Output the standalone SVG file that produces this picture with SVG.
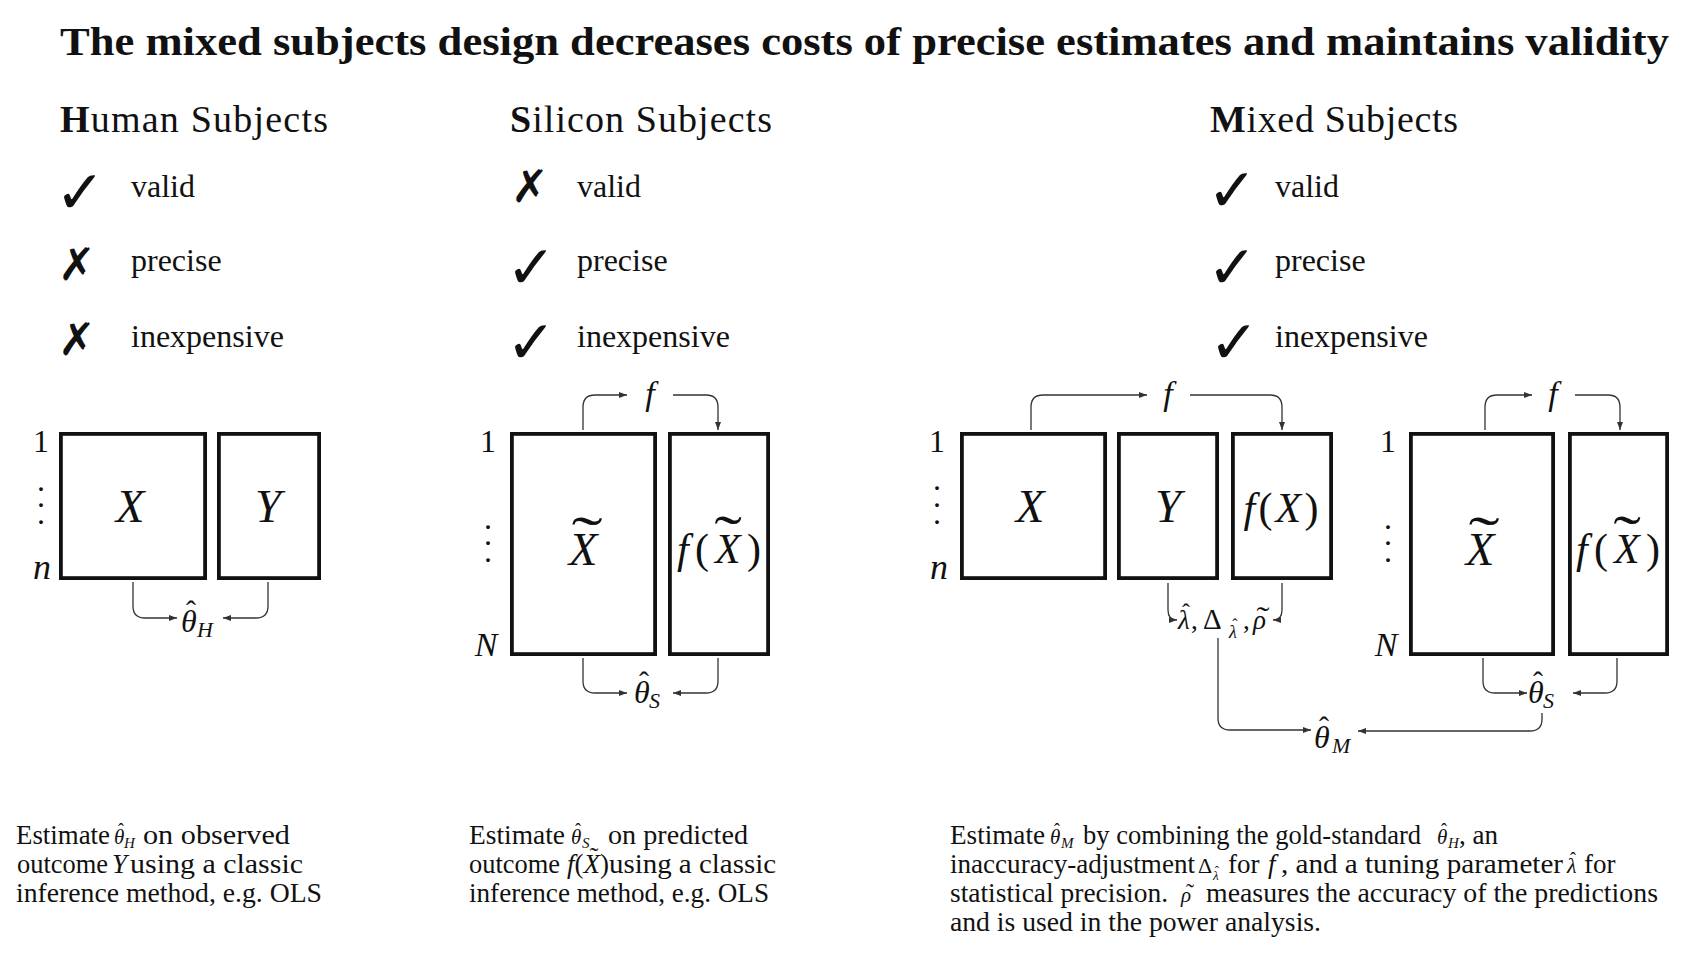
<svg xmlns="http://www.w3.org/2000/svg" width="1688" height="955" viewBox="0 0 1688 955">
<style>
text{font-family:"Liberation Serif","Times New Roman",serif;fill:#111}
.title{font-size:41px;font-weight:bold}
.head{font-size:38px}
.item{font-size:32px}
.ck{font-family:"DejaVu Sans",sans-serif;font-size:60px}
.cx{font-family:"DejaVu Sans",sans-serif;font-size:45px}
.mi{font-style:italic}
.big{font-size:47px;font-style:italic;text-anchor:middle}
.fx{font-size:42px;text-anchor:middle}
.idx{font-size:32px;text-anchor:middle}
.f{font-size:34px;font-style:italic;text-anchor:middle}
.th{font-size:32px;font-style:italic}
.sub{font-size:22px;font-style:italic}
.hat{font-size:30px;text-anchor:middle}
.til{font-size:52px;text-anchor:middle}
.lab{font-size:27px}
.body{font-size:27px}
.bm{font-size:21px;font-style:italic}
.bs{font-size:15px;font-style:italic}
.bh{font-size:18px;text-anchor:middle}
.box{fill:#fff;stroke:#111;stroke-width:3.8}
.conn path{fill:none;stroke:#333;stroke-width:1.3}
</style>
<defs>
<marker id="ah" viewBox="0 0 8 6" refX="8" refY="3" markerWidth="8" markerHeight="6" markerUnits="userSpaceOnUse" orient="auto"><path d="M0,0 L8,3 L0,6 z" fill="#333"/></marker>
</defs>
<rect width="1688" height="955" fill="#fff"/>

<g id="title"><text class="title" x="60" y="55" textLength="1609" lengthAdjust="spacingAndGlyphs">The mixed subjects design decreases costs of precise estimates and maintains validity</text></g>

<g id="human-head">
<text class="head" x="60" y="132" textLength="268"><tspan font-weight="bold">H</tspan>uman Subjects</text>
<text class="ck" x="55" y="213">✓</text><text class="item" x="131" y="197">valid</text>
<text class="cx" x="58" y="280">✗</text><text class="item" x="131" y="271">precise</text>
<text class="cx" x="58" y="355">✗</text><text class="item" x="131" y="347">inexpensive</text>
</g>
<g id="silicon-head">
<text class="head" x="510" y="132" textLength="262"><tspan font-weight="bold">S</tspan>ilicon Subjects</text>
<text class="cx" x="511" y="202">✗</text><text class="item" x="577" y="197">valid</text>
<text class="ck" x="506" y="288">✓</text><text class="item" x="577" y="271">precise</text>
<text class="ck" x="506" y="363">✓</text><text class="item" x="577" y="347">inexpensive</text>
</g>
<g id="mixed-head">
<text class="head" x="1210" y="132" textLength="248"><tspan font-weight="bold">M</tspan>ixed Subjects</text>
<text class="ck" x="1207" y="211">✓</text><text class="item" x="1275" y="197">valid</text>
<text class="ck" x="1207" y="288">✓</text><text class="item" x="1275" y="271">precise</text>
<text class="ck" x="1209" y="363">✓</text><text class="item" x="1275" y="347">inexpensive</text>
</g>

<g id="human-X"><rect class="box" x="60.9" y="433.9" width="144.2" height="144.2"/><text class="big" x="130" y="522">X</text></g>
<g id="human-Y"><rect class="box" x="218.9" y="433.9" width="100.2" height="144.2"/><text class="big" x="268" y="522">Y</text></g>
<g id="human-index"><text class="idx" x="41" y="452">1</text><text class="idx" x="41" y="491">.</text><text class="idx" x="41" y="507">.</text><text class="idx" x="41" y="524">.</text><text class="idx mi" x="42" y="579" style="font-size:36px">n</text></g>
<g id="human-theta"><text class="th" x="181" y="632">θ</text><text class="hat" x="191" y="621">ˆ</text><text class="sub" x="197" y="637">H</text></g>

<g id="silicon-Xt"><rect class="box" x="511.9" y="433.9" width="143.2" height="220.2"/><text class="big" x="583" y="565">X</text><text class="til" x="0" y="0" transform="translate(587,556) scale(1.8,1.1)">˜</text></g>
<g id="silicon-fXt"><rect class="box" x="669.9" y="433.9" width="98.2" height="220.2"/><text class="fx" x="719" y="563" textLength="84"><tspan class="mi">f</tspan>(<tspan class="mi">X</tspan>)</text><text class="til" x="0" y="0" transform="translate(728,555) scale(1.6,1.1)">˜</text></g>
<g id="silicon-index"><text class="idx" x="488" y="452">1</text><text class="idx" x="488" y="529">.</text><text class="idx" x="488" y="545">.</text><text class="idx" x="488" y="562">.</text><text class="idx mi" x="486" y="656" style="font-size:34px">N</text></g>
<g id="silicon-f"><text class="f" x="650" y="405">f</text></g>
<g id="silicon-theta"><text class="th" x="634" y="703">θ</text><text class="hat" x="644" y="692">ˆ</text><text class="sub" x="649" y="708">S</text></g>

<g id="mixed-X"><rect class="box" x="961.9" y="433.9" width="143.2" height="144.2"/><text class="big" x="1030" y="522">X</text></g>
<g id="mixed-Y"><rect class="box" x="1118.9" y="433.9" width="98.2" height="144.2"/><text class="big" x="1168" y="522">Y</text></g>
<g id="mixed-fX"><rect class="box" x="1232.9" y="433.9" width="98.2" height="144.2"/><text class="fx" x="1281" y="522" textLength="75"><tspan class="mi">f</tspan>(<tspan class="mi">X</tspan>)</text></g>
<g id="mixed-index"><text class="idx" x="937" y="452">1</text><text class="idx" x="937" y="490">.</text><text class="idx" x="937" y="507">.</text><text class="idx" x="937" y="524">.</text><text class="idx mi" x="939" y="579" style="font-size:36px">n</text></g>
<g id="mixed-f1"><text class="f" x="1168" y="405">f</text></g>
<g id="mixed-params"><text class="lab mi" x="1178" y="629">λ</text><text class="hat" x="1186" y="620" style="font-size:24px">ˆ</text><text class="lab" x="1191" y="629">,</text><text class="lab" x="1203" y="629" style="font-size:29px">Δ</text><text class="sub" x="1229" y="638" style="font-size:18px">λ</text><text class="hat" x="1235" y="630" style="font-size:16px">ˆ</text><text class="lab" x="1243" y="629">,</text><text class="lab mi" x="1253" y="629">ρ</text><text class="til" x="0" y="0" transform="translate(1263,627) scale(1.3,1)" style="font-size:30px">˜</text></g>

<g id="mixed-Xt"><rect class="box" x="1410.9" y="433.9" width="142.2" height="220.2"/><text class="big" x="1480" y="565">X</text><text class="til" x="0" y="0" transform="translate(1484,556) scale(1.8,1.1)">˜</text></g>
<g id="mixed-fXt"><rect class="box" x="1569.9" y="433.9" width="97.2" height="220.2"/><text class="fx" x="1618" y="563" textLength="84"><tspan class="mi">f</tspan>(<tspan class="mi">X</tspan>)</text><text class="til" x="0" y="0" transform="translate(1627,555) scale(1.6,1.1)">˜</text></g>
<g id="mixed-index2"><text class="idx" x="1388" y="452">1</text><text class="idx" x="1388" y="529">.</text><text class="idx" x="1388" y="545">.</text><text class="idx" x="1388" y="562">.</text><text class="idx mi" x="1386" y="656" style="font-size:34px">N</text></g>
<g id="mixed-f2"><text class="f" x="1553" y="405">f</text></g>
<g id="mixed-thetaS"><text class="th" x="1528" y="703">θ</text><text class="hat" x="1538" y="692">ˆ</text><text class="sub" x="1543" y="708">S</text></g>
<g id="mixed-thetaM"><text class="th" x="1314" y="748">θ</text><text class="hat" x="1324" y="737">ˆ</text><text class="sub" x="1332" y="753">M</text></g>

<g id="connectors" class="conn">
<path d="M133,582 V606 Q133,618 145,618 H177" marker-end="url(#ah)"/>
<path d="M268,582 V606 Q268,618 256,618 H223" marker-end="url(#ah)"/>
<path d="M583,430 V407 Q583,395 595,395 H627" marker-end="url(#ah)"/>
<path d="M673,395 H706 Q718,395 718,407 V430" marker-end="url(#ah)"/>
<path d="M583,658 V681 Q583,693 595,693 H627" marker-end="url(#ah)"/>
<path d="M718,658 V681 Q718,693 706,693 H673" marker-end="url(#ah)"/>
<path d="M1031,430 V407 Q1031,395 1043,395 H1147" marker-end="url(#ah)"/>
<path d="M1190,395 H1270 Q1282,395 1282,407 V430" marker-end="url(#ah)"/>
<path d="M1168,583 V610 Q1168,620 1177,620" marker-end="url(#ah)"/>
<path d="M1282,583 V610 Q1282,620 1273,620" marker-end="url(#ah)"/>
<path d="M1218,638 V718 Q1218,730 1230,730 H1311" marker-end="url(#ah)"/>
<path d="M1542,713 V719 Q1542,731 1530,731 H1358" marker-end="url(#ah)"/>
<path d="M1485,430 V407 Q1485,395 1497,395 H1532" marker-end="url(#ah)"/>
<path d="M1575,395 H1608 Q1620,395 1620,407 V430" marker-end="url(#ah)"/>
<path d="M1483,658 V681 Q1483,693 1495,693 H1527" marker-end="url(#ah)"/>
<path d="M1617,658 V681 Q1617,693 1605,693 H1573" marker-end="url(#ah)"/>
</g>

<g id="human-caption">
<text class="body" x="16" y="844" textLength="94" lengthAdjust="spacingAndGlyphs">Estimate</text>
<text class="bm" x="114" y="844">θ</text><text class="bh" x="121" y="836">ˆ</text><text class="bs" x="124" y="848">H</text>
<text class="body" x="143" y="844" textLength="147" lengthAdjust="spacingAndGlyphs">on observed</text>
<text class="body" x="17" y="873" textLength="91" lengthAdjust="spacingAndGlyphs">outcome</text>
<text class="body mi" x="112" y="873">Y</text>
<text class="body" x="130" y="873" textLength="173" lengthAdjust="spacingAndGlyphs">using a classic</text>
<text class="body" x="16" y="902" textLength="306" lengthAdjust="spacingAndGlyphs">inference method, e.g. OLS</text>
</g>
<g id="silicon-caption">
<text class="body" x="469" y="844" textLength="96" lengthAdjust="spacingAndGlyphs">Estimate</text>
<text class="bm" x="571" y="844">θ</text><text class="bh" x="578" y="836">ˆ</text><text class="bs" x="582" y="848">S</text>
<text class="body" x="608" y="844" textLength="140" lengthAdjust="spacingAndGlyphs">on predicted</text>
<text class="body" x="469" y="873" textLength="91" lengthAdjust="spacingAndGlyphs">outcome</text>
<text class="body" x="567" y="873"><tspan class="mi">f</tspan>(<tspan class="mi">X</tspan>)</text>
<text class="til" x="0" y="0" transform="translate(594,865)" style="font-size:26px">˜</text>
<text class="body" x="609" y="873" textLength="167" lengthAdjust="spacingAndGlyphs">using a classic</text>
<text class="body" x="469" y="902" textLength="300" lengthAdjust="spacingAndGlyphs">inference method, e.g. OLS</text>
</g>
<g id="mixed-caption">
<text class="body" x="950" y="844" textLength="95" lengthAdjust="spacingAndGlyphs">Estimate</text>
<text class="bm" x="1050" y="844">θ</text><text class="bh" x="1057" y="836">ˆ</text><text class="bs" x="1061" y="848">M</text>
<text class="body" x="1083" y="844" textLength="338" lengthAdjust="spacingAndGlyphs">by combining the gold-standard</text>
<text class="bm" x="1437" y="844">θ</text><text class="bh" x="1444" y="836">ˆ</text><text class="bs" x="1448" y="848">H</text>
<text class="body" x="1459" y="844">, an</text>
<text class="body" x="950" y="873" textLength="245" lengthAdjust="spacingAndGlyphs">inaccuracy-adjustment</text>
<text class="body" x="1198" y="873" style="font-size:22px">Δ</text><text class="bs" x="1213" y="880" style="font-size:13px">λ</text><text class="bh" x="1217" y="875" style="font-size:13px">ˆ</text>
<text class="body" x="1228" y="873">for</text>
<text class="body mi" x="1268" y="873">f</text>
<text class="body" x="1281" y="873" textLength="282" lengthAdjust="spacingAndGlyphs">, and a tuning parameter</text>
<text class="body mi" x="1567" y="873" style="font-size:22px">λ</text><text class="bh" x="1573" y="865">ˆ</text>
<text class="body" x="1584" y="873">for</text>
<text class="body" x="950" y="902" textLength="218" lengthAdjust="spacingAndGlyphs">statistical precision.</text>
<text class="bm" x="1181" y="902">ρ</text><text class="til" x="0" y="0" transform="translate(1190,900)" style="font-size:24px">˜</text>
<text class="body" x="1206" y="902" textLength="452" lengthAdjust="spacingAndGlyphs">measures the accuracy of the predictions</text>
<text class="body" x="950" y="931" textLength="371" lengthAdjust="spacingAndGlyphs">and is used in the power analysis.</text>
</g>
</svg>
